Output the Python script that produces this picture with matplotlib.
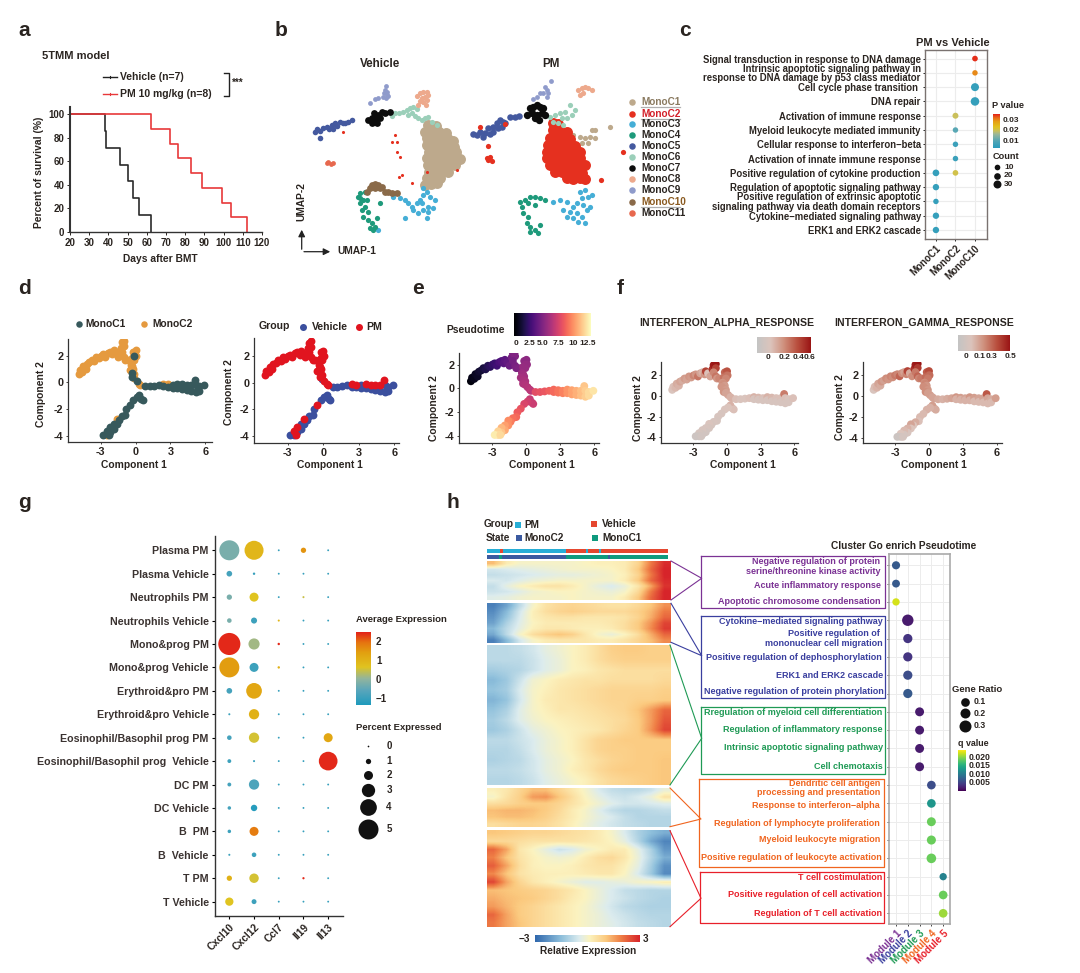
import numpy as np
import matplotlib
matplotlib.use('Agg')
import matplotlib.pyplot as plt
from matplotlib.colors import LinearSegmentedColormap

plt.rcParams['font.family'] = ['Liberation Sans', 'DejaVu Sans']
plt.rcParams['font.weight'] = 'bold'
plt.rcParams['axes.labelweight'] = 'bold'
plt.rcParams['axes.titleweight'] = 'bold'
plt.rcParams['axes.unicode_minus'] = True

W, H = 1080, 973
TXT = '#2a2420'

# a: survival
veh_days = [20, 38, 39, 46, 50, 53, 56, 62]
veh_surv = [100, 85.7, 71.4, 57.1, 42.9, 28.6, 14.3, 0]
pm_days = [20, 62, 72, 76, 83, 89, 99, 104, 112]
pm_surv = [100, 87.5, 75, 62.5, 50, 37.5, 25, 12.5, 0]

# b: UMAP clouds, one list per cluster
cluster_names = ['MonoC1', 'MonoC2', 'MonoC3', 'MonoC4', 'MonoC5', 'MonoC6', 'MonoC7', 'MonoC8', 'MonoC9', 'MonoC10', 'MonoC11']
cluster_colors = ['#bda98c', '#e5301f', '#45aed6', '#1e9a7b', '#44599f', '#9bcfb9', '#0c0c0c', '#eda98c', '#8f9bcb', '#8a6a49', '#e7684e']
legend_text_colors = ['#8a7a60', '#d4202a', TXT, TXT, TXT, TXT, TXT, TXT, TXT, '#8a5a20', TXT]

veh_c1 = [(445, 345), (468, 348), (435, 365), (455, 362), (478, 366), (497, 370), (440, 385), (462, 384), (482, 388), (503, 386), (518, 392),
          (442, 405), (460, 407), (480, 404), (500, 408), (522, 410), (447, 425), (466, 428), (487, 424), (506, 428), (528, 426),
          (440, 445), (460, 447), (480, 444), (500, 448), (520, 445), (541, 447), (445, 465), (466, 467), (486, 464), (506, 467), (526, 465),
          (447, 485), (465, 487), (485, 484), (505, 486), (442, 505), (460, 507), (480, 504), (436, 525), (452, 522), (470, 520)]
veh_c2 = [(345, 375), (335, 395), (350, 395), (350, 425), (360, 440), (365, 495), (358, 500), (395, 520), (190, 365), (440, 487), (530, 480)]
veh_c3 = [(360, 565), (375, 570), (385, 580), (395, 590), (410, 580), (420, 570), (430, 555), (440, 545), (450, 560), (465, 570), (445, 590),
          (430, 600), (415, 610), (440, 625), (445, 605), (460, 595), (400, 600), (375, 625), (340, 560), (430, 535), (295, 660), (425, 580)]
veh_c4 = [(235, 560), (240, 550), (255, 545), (250, 570), (240, 580), (245, 600), (255, 590), (265, 605), (250, 620), (265, 630), (275, 640),
          (285, 650), (270, 655), (280, 660), (290, 625), (300, 580), (260, 570), (240, 565)]
veh_c5 = [(105, 365), (112, 358), (120, 362), (130, 355), (140, 352), (148, 358), (155, 345), (165, 340), (172, 347), (180, 335), (188, 340),
          (195, 338), (205, 335), (215, 330), (120, 385), (160, 358)]
veh_c6 = [(335, 318), (345, 310), (358, 308), (370, 305), (380, 300), (390, 295), (400, 290), (410, 298), (395, 310), (405, 318), (415, 325),
          (425, 330), (385, 315), (435, 325), (445, 320), (455, 335), (470, 345)]
veh_c7 = [(265, 330), (275, 325), (285, 320), (295, 315), (305, 305), (300, 325), (285, 335), (275, 340), (290, 340), (315, 310), (330, 305), (282, 310)]
veh_c8 = [(410, 258), (420, 250), (430, 245), (440, 245), (445, 255), (435, 260), (425, 265), (440, 270), (430, 275), (420, 272), (437, 285), (415, 285)]
veh_c9 = [(318, 228), (315, 240), (322, 245), (312, 250), (320, 255), (325, 258), (310, 262), (318, 265), (285, 268), (270, 280), (295, 265)]
veh_c10 = [(275, 525), (285, 522), (295, 525), (305, 530), (285, 535), (300, 535), (315, 545), (325, 545), (335, 548), (350, 550), (262, 545), (270, 535)]
veh_c11 = [(145, 455), (152, 462), (140, 458), (160, 458)]

pm_c1 = [(880, 375), (900, 380), (915, 385), (930, 380), (945, 385), (905, 400), (925, 400), (935, 360), (990, 350), (945, 360)]
pm_c2 = [(820, 340), (835, 342), (820, 360), (840, 362), (860, 365), (810, 385), (830, 384), (850, 386), (870, 388),
         (805, 405), (825, 407), (845, 404), (865, 406), (885, 408), (800, 425), (820, 427), (840, 424), (860, 426), (880, 428), (900, 425),
         (800, 445), (820, 447), (840, 444), (860, 446), (880, 448), (900, 445), (810, 465), (830, 467), (850, 464), (870, 466), (890, 468), (915, 465),
         (825, 485), (845, 487), (865, 484), (885, 486), (905, 488), (860, 505), (880, 507), (900, 504), (915, 508)]
pm_c2_far = [(963, 510), (1030, 427), (625, 450), (635, 452), (620, 445), (630, 440), (625, 408), (600, 350), (675, 343)]
pm_c3 = [(900, 545), (915, 540), (905, 565), (925, 560), (890, 580), (910, 585), (820, 575), (840, 570), (860, 575), (880, 590), (870, 605),
         (890, 610), (905, 620), (920, 600), (880, 625), (895, 635), (915, 640), (930, 590), (850, 600), (860, 620), (935, 555)]
pm_c4 = [(720, 575), (735, 570), (750, 560), (765, 560), (780, 565), (795, 570), (725, 590), (745, 580), (765, 585), (730, 610), (745, 620),
         (740, 640), (750, 650), (765, 660), (750, 665), (780, 645), (775, 670)]
pm_c5 = [(580, 372), (590, 375), (600, 365), (615, 370), (625, 355), (640, 350), (650, 340), (660, 330), (670, 335), (655, 355), (640, 365),
         (665, 350), (675, 340), (690, 322), (705, 320), (718, 318), (610, 380), (630, 372)]
pm_c6 = [(810, 320), (825, 315), (840, 310), (855, 305), (870, 285), (845, 325), (860, 325), (875, 315), (885, 300), (850, 345), (835, 340), (820, 335)]
pm_c7 = [(750, 295), (760, 290), (770, 285), (780, 290), (790, 295), (785, 310), (770, 315), (755, 310), (765, 325), (778, 330), (740, 315), (795, 315)]
pm_c8 = [(895, 240), (905, 235), (915, 232), (925, 235), (935, 240), (910, 248), (900, 255)]
pm_c9 = [(795, 230), (800, 240), (790, 250), (805, 250), (780, 250), (770, 260), (760, 268), (800, 260), (812, 212)]

# c: enrichment dots
c_terms = ['Signal transduction in response to DNA damage', 'Intrinsic apoptotic signaling pathway in\nresponse to DNA damage by p53 class mediator',
           'Cell cycle phase transition ', 'DNA repair', 'Activation of immune response', 'Myeloid leukocyte mediated immunity',
           'Cellular response to interferon\u2212beta', 'Activation of innate immune response', 'Positive regulation of cytokine production',
           'Regulation of apoptotic signaling pathway', 'Positive regulation of extrinsic apoptotic\nsignaling pathway via death domain receptors',
           'Cytokine\u2212mediated signaling pathway', 'ERK1 and ERK2 cascade']
c_cols = ['MonoC1', 'MonoC2', 'MonoC10']
c_row = [0, 1, 2, 3, 4, 5, 6, 7, 8, 8, 9, 10, 11, 12]
c_col = [2, 2, 2, 2, 1, 1, 1, 1, 0, 1, 0, 0, 0, 0]
c_count = [10, 9, 30, 34, 13, 9, 9, 9, 20, 10, 17, 9, 17, 17]
c_pval = [0.035, 0.03, 0.006, 0.006, 0.02, 0.011, 0.007, 0.007, 0.006, 0.021, 0.006, 0.006, 0.006, 0.006]

# d, e, f: trajectory points (left arm, spur, blob, stem, right arm, lower arm)
traj_x = [-4.9, -4.8, -4.6, -4.5, -4.3, -4.2, -4.0, -3.8, -3.6, -3.4, -3.2, -3.0, -2.8, -2.6, -2.4, -2.2, -2.0, -1.9, -1.7, -1.5,
          -1.3, -1.2, -1.0, -1.0, -1.2, -1.0, -0.9, -0.7,
          -0.2, 0.0, -0.1, 0.05, -0.3, -0.1,
          -0.4, -0.3, -0.2, -0.5, -0.3, -0.1, -0.3, -0.1, 0.1, 0.3, 0.4,
          0.8, 1.2, 1.6, 2.0, 2.4, 2.4, 2.8, 2.8, 3.2, 3.2, 3.6, 3.6, 4.0, 4.0, 4.4, 4.4, 4.8, 4.8, 5.1, 5.2, 5.2, 5.5, 5.5, 5.9,
          0.5, 0.3, 0.6, 0.1, -0.2, -0.5, -0.8, -0.9, -1.2, -1.4, -1.6, -1.6, -1.9, -1.9, -2.2, -2.2, -2.5, -2.5, -2.8, -2.3]
traj_y = [0.6, 0.9, 0.8, 1.2, 1.0, 1.4, 1.5, 1.7, 1.6, 1.9, 1.8, 2.0, 2.1, 1.9, 2.2, 2.3, 2.1, 2.4, 2.2, 1.9,
          2.6, 3.0, 3.1, 2.7, 2.3, 1.9, 1.7, 1.7,
          2.3, 2.4, 2.0, 2.0, 1.8, 1.7,
          1.3, 1.2, 1.0, 0.9, 0.7, 0.6, 0.4, 0.3, 0.1, -0.1, -0.2,
          -0.3, -0.3, -0.25, -0.2, -0.1, -0.3, -0.15, -0.35, -0.2, -0.4, -0.1, -0.4, -0.15, -0.5, -0.2, -0.55, -0.2, -0.6, 0.2, -0.2, -0.7, -0.3, -0.6, -0.2,
          -1.2, -0.9, -1.3, -1.1, -1.3, -1.7, -2.0, -2.4, -2.5, -2.8, -2.7, -3.1, -3.1, -3.5, -3.3, -3.7, -3.6, -3.9, -3.9, -3.9]
traj_state = ('22222222222222222222' '22222222' '221222' '22221212122'
              '111121211111111111111111' '11111111112111111211')
traj_group = ('PPPPPPPPPPPPPPPPPPPP' 'PPPPPPPP' 'PPPPPP' 'PPPPVPPVPPP'
              'VVVVPVPVVVPVPVPVPVPVVVVV' 'VVVVVPVVVVPVVVPVPVVP')
traj_ptime = [0, 0.2, 0.3, 0.5, 0.6, 0.8, 1, 1.2, 1.4, 1.6, 1.8, 2.1, 2.3, 2.5, 2.8, 3, 3.3, 3.4, 3.6, 3.9,
              4.2, 4.5, 4.7, 4.6, 4.2, 4.3, 4.4, 4.5,
              5, 5, 5.2, 5.2, 5.3, 5.3,
              5.5, 5.6, 5.7, 5.8, 5.9, 6, 6.1, 6.2, 6.3, 6.4, 6.5,
              7.8, 8, 8.2, 8.5, 8.8, 8.8, 9.1, 9.1, 9.5, 9.5, 10, 10, 10.4, 10.4, 10.8, 10.8, 11.2, 11.2, 11.4, 11.6, 11.6, 12, 12, 12.3,
              7, 6.8, 7, 7.2, 7.5, 8, 8.4, 8.8, 9, 9.4, 9.8, 9.9, 10.3, 10.6, 11, 11.4, 11.8, 12.1, 12.5, 12]
traj_alpha = [0.02, 0.05, 0.08, 0.12, 0.1, 0.15, 0.12, 0.18, 0.15, 0.2, 0.18, 0.25, 0.2, 0.3, 0.15, 0.1, 0.2, 0.45, 0.05, 0.15,
              0.5, 0.58, 0.6, 0.45, 0.25, 0.3, 0.2, 0.25,
              0.35, 0.4, 0.35, 0.3, 0.3, 0.25,
              0.2, 0.22, 0.18, 0.2, 0.2, 0.18, 0.2, 0.15, 0.15, 0.1, 0.1,
              0.05, 0.02, 0.02, 0.05, 0.1, 0.0, 0.08, 0.0, 0.05, 0.0, 0.1, 0.0, 0.08, 0.0, 0.05, 0.0, 0.05, 0.0, 0.28, 0.05, 0.0, 0.03, 0.0, 0.05,
              0.05, 0.1, 0.05, 0.03, 0.02, 0.0, 0.0, -0.02, 0.0, -0.02, 0.02, -0.02, 0.0, -0.05, 0.0, -0.05, -0.02, -0.08, -0.08, -0.05]
traj_gamma = [0.03, 0.08, 0.1, 0.14, 0.12, 0.18, 0.15, 0.2, 0.18, 0.22, 0.2, 0.25, 0.22, 0.3, 0.2, 0.15, 0.22, 0.38, 0.12, 0.2,
              0.42, 0.48, 0.5, 0.4, 0.25, 0.3, 0.22, 0.25,
              0.32, 0.36, 0.32, 0.28, 0.28, 0.25,
              0.2, 0.22, 0.18, 0.2, 0.2, 0.18, 0.2, 0.16, 0.16, 0.14, 0.14,
              0.12, 0.1, 0.12, 0.14, 0.18, 0.1, 0.16, 0.1, 0.14, 0.1, 0.18, 0.1, 0.16, 0.08, 0.14, 0.08, 0.14, 0.08, 0.33, 0.14, 0.08, 0.12, 0.08, 0.16,
              0.12, 0.16, 0.12, 0.1, 0.1, 0.08, 0.08, 0.06, 0.12, 0.05, 0.14, 0.05, 0.1, 0.02, 0.08, 0.0, 0.05, -0.02, -0.05, 0.0]

# g: expression dot plot
g_rows = ['Plasma PM', 'Plasma Vehicle', 'Neutrophils PM', 'Neutrophils Vehicle', 'Mono&prog PM', 'Mono&prog Vehicle', 'Erythroid&pro PM',
          'Erythroid&pro Vehicle', 'Eosinophil/Basophil prog PM', 'Eosinophil/Basophil prog  Vehicle', 'DC PM', 'DC Vehicle', 'B  PM', 'B  Vehicle', 'T PM', 'T Vehicle']
g_genes = ['Cxcl10', 'Cxcl12', 'Ccl7', 'Il19', 'Il13']
g_pct = {'Cxcl10': [5, 1.1, 1, 0.8, 5.6, 5, 1.1, 0.1, 0.8, 0.6, 0.6, 0.5, 0.5, 0.1, 1, 1.8],
         'Cxcl12': [4.7, 0.2, 2, 1.2, 2.5, 2, 3.7, 2.3, 2.3, 0.1, 2.3, 1.3, 2, 0.8, 2.1, 0.9],
         'Ccl7': [0.05, 0.05, 0.05, 0.1, 0.2, 0.2, 0.05, 0.05, 0.05, 0.05, 0.05, 0.05, 0.05, 0.05, 0.05, 0.05],
         'Il19': [1, 0.05, 0.1, 0.05, 0.05, 0.05, 0.05, 0.05, 0.05, 0.05, 0.05, 0.05, 0.05, 0.05, 0.15, 0.05],
         'Il13': [0.05, 0.05, 0.05, 0.05, 0.05, 0.05, 0.05, 0.05, 2, 4.6, 0.05, 0.05, 0.05, 0.05, 0.05, 0.05]}
g_avg = {'Cxcl10': [-0.2, -0.8, -0.2, -0.2, 2.5, 1.5, -0.8, -0.9, -0.8, -0.9, -0.8, -0.8, -0.9, -0.9, 1.1, 0.7],
         'Cxcl12': [1.0, -1, 0.7, -0.9, 0.2, -0.9, 1.3, 1.1, 0.6, -1, -0.7, -1.2, 1.9, -0.9, 0.6, -0.9],
         'Ccl7': [-1, -1, -1, 1.0, 2.5, 1.1, -1, -1, -1, -1, -1, -1, -1, -1, -1, -1],
         'Il19': [1.6, -1, 0.5, -1, -1, -1, -1, -1, -1, -1, -1, -1, -1, -1, 2.5, -1],
         'Il13': [-1, -1, -1, -1, -1, -1, -1, -1, 1.3, 2.5, -1, -1, -1, -1, -1, -1]}
pct_legend = [0, 1, 2, 3, 4, 5]

# h: heatmap, one table per module, pseudotime runs left to right
heat_m1 = [[1.2, 0.3, 0, 0, 0, 0, 0, 0.1, 0.2, 0.2, 0.3, 0.8, 2, 2.9],
           [-0.6, -0.5, -0.4, -0.3, -0.2, -0.1, 0, 0, 0, 0.1, 0.3, 1, 2.2, 3],
           [-0.8, -0.7, -0.6, -0.5, -0.4, -0.3, -0.3, -0.2, -0.1, 0, 0.2, 0.8, 2, 3],
           [-0.5, -0.6, -0.4, -0.2, -0.1, 0, 0, 0, 0, 0, 0.3, 1, 2.2, 2.9],
           [-0.8, -0.3, 0.1, 0.3, 0.5, 0.5, 0.3, 0, -0.3, -0.5, -0.2, 0.4, 1.5, 2.8],
           [-0.7, -0.6, -0.4, -0.1, 0, 0.1, 0.1, 0, -0.1, -0.2, 0, 0.7, 2, 3],
           [-0.4, -0.3, -0.1, 0, 0, 0, 0.1, 0, 0, 0, 0.3, 1, 2.2, 3]]
heat_m2 = [[-2.6, -2, -0.9, 0, 0.5, 0.7, 0.8, 0.7, 0.6, 0.5, 0.5, 0.7, 1.1, 1.7],
           [-2.4, -1.6, -0.6, 0.2, 0.6, 0.8, 0.9, 0.8, 0.7, 0.7, 0.7, 0.9, 1.3, 2],
           [-2.2, -1.4, -0.5, 0.2, 0.4, 0.5, 0.5, 0.4, 0.4, 0.4, 0.5, 0.8, 1.4, 2.2],
           [-2.0, -1.1, -0.4, 0.1, 0.3, 0.3, 0.3, 0.3, 0.3, 0.4, 0.6, 1, 1.7, 2.6],
           [-1.6, -0.9, -0.3, 0.2, 0.4, 0.4, 0.3, 0.2, 0.2, 0.3, 0.6, 1, 1.8, 2.7],
           [-1.9, -0.9, 0, 0.6, 0.9, 1.1, 0.9, 0.4, 0, -0.2, 0.1, 0.6, 1.4, 2.2],
           [-2.6, -1.6, -0.6, 0, 0.3, 0.4, 0.4, 0.4, 0.3, 0.3, 0.5, 0.8, 1.2, 1.8]]
heat_m3 = [[-0.9, -0.9, -0.8, -0.6, -0.3, -0.1, 0.1, 0.3, 0.6, 0.9, 1, 1, 0.9, 0.9],
           [-0.9, -0.9, -0.9, -0.7, -0.4, -0.2, 0.1, 0.3, 0.6, 0.8, 0.9, 0.9, 0.9, 0.9],
           [-1.2, -1.1, -1, -0.7, -0.4, -0.2, 0.1, 0.2, 0.4, 0.5, 0.6, 0.6, 0.6, 0.6],
           [-1.6, -1.3, -0.7, -0.1, 0.1, 0.3, 0.4, 0.5, 0.5, 0.6, 0.6, 0.6, 0.6, 0.7],
           [-1.4, -1.2, -0.5, 0, 0.2, 0.4, 0.5, 0.6, 0.7, 0.8, 0.8, 0.8, 0.8, 0.9],
           [-1.7, -1.4, -0.6, 0, 0.3, 0.4, 0.5, 0.6, 0.7, 0.8, 0.8, 0.9, 0.9, 1],
           [-1.4, -1.1, -0.4, 0, 0.2, 0.4, 0.4, 0.5, 0.6, 0.7, 0.8, 1.1, 1.6, 2.2],
           [-1.2, -0.9, -0.4, -0.1, 0.1, 0.2, 0.3, 0.4, 0.5, 0.6, 0.7, 1, 1.6, 2.4],
           [-1.3, -1.1, -0.7, -0.3, -0.1, 0.1, 0.2, 0.3, 0.4, 0.6, 0.8, 1, 1.7, 2.6],
           [-0.9, -0.9, -0.7, -0.5, -0.2, 0, 0.2, 0.5, 0.8, 0.9, 1, 1, 1, 1],
           [-1, -1, -0.8, -0.5, -0.2, 0, 0.2, 0.5, 0.8, 0.9, 0.9, 1, 1, 1],
           [-1.1, -1, -0.9, -0.6, -0.3, -0.1, 0.1, 0.4, 0.6, 0.8, 0.9, 1, 1, 1.1],
           [-0.9, -0.9, -0.8, -0.6, -0.3, -0.1, 0.2, 0.4, 0.7, 0.9, 1, 1, 1, 1.1],
           [-1, -1, -0.9, -0.7, -0.4, -0.2, 0, 0.2, 0.5, 0.7, 0.8, 0.9, 1, 1.1]]
heat_m4 = [[0.2, 0.4, 0.8, 1.2, 1.2, 0.8, 0.4, 0, -0.5, -0.8, -0.9, -0.9, -0.7, -0.2],
           [0, 0.5, 0.9, 1.6, 1.7, 1.1, 0.6, 0.1, -0.3, -0.6, -0.7, -0.5, -0.2, 0.5],
           [0.6, 0.7, 0.9, 1, 1, 0.8, 0.5, 0.2, -0.1, -0.4, -0.6, -0.6, -0.5, -0.4],
           [1.2, 1.3, 1.3, 1.2, 1, 0.7, 0.3, 0, -0.4, -0.8, -1, -1, -0.9, -0.8],
           [1.1, 1.2, 1.2, 1.1, 0.9, 0.6, 0.3, 0, -0.3, -0.5, -0.8, -1, -1, -1],
           [0.6, 0.7, 0.8, 0.8, 0.7, 0.5, 0.2, -0.1, -0.4, -0.6, -0.8, -0.9, -1, -1]]
heat_m5 = [[1.1, 1, 0.9, 0.8, 0.8, 0.7, 0.6, 0.5, 0.3, 0, -0.5, -1.1, -1.5, -1.8],
           [0.7, 0.7, 0.6, 0.5, 0.5, 0.5, 0.5, 0.4, 0.3, 0.1, -0.3, -1, -1.9, -2.5],
           [2.2, 1.5, 0.4, 0.1, -0.3, -0.7, -0.5, -0.1, 0.1, 0.3, 0.3, -0.3, -1.1, -2.2],
           [1.9, 1.1, 0.5, 0.2, 0, -0.1, 0, 0.3, 0.6, 0.7, 0.4, -0.2, -1, -1.8],
           [2.3, 1.5, 0.6, 0.2, 0.1, 0.1, 0.2, 0.4, 0.5, 0.5, 0.2, -0.3, -1.2, -2.3],
           [1.8, 1.1, 0.5, 0.3, 0.2, 0.2, 0.2, 0.3, 0.4, 0.4, 0.1, -0.5, -1.3, -2.4],
           [2.6, 1.5, 0.8, 0.4, 0.2, 0, -0.2, -0.4, -0.4, -0.3, -0.2, 0, 0.1, 0.3],
           [1.2, 1.1, 1, 0.9, 0.8, 0.6, 0.4, 0.1, -0.2, -0.5, -0.8, -0.9, -1, -1],
           [1.4, 1.2, 1.1, 1, 0.8, 0.6, 0.3, 0.1, -0.2, -0.5, -0.7, -0.9, -1, -1.1],
           [1.6, 1.3, 1, 0.8, 0.6, 0.4, 0.2, 0, -0.3, -0.6, -0.9, -1, -1.1, -1.1],
           [2.2, 1.5, 1, 0.8, 0.6, 0.4, 0.2, 0, -0.2, -0.5, -0.7, -0.9, -1, -1],
           [2, 1.5, 1.1, 0.8, 0.6, 0.4, 0.2, 0, -0.2, -0.4, -0.6, -0.8, -0.9, -1]]
group_seg = [('PM', 7.1), ('Vehicle', 1.8), ('PM', 34), ('Vehicle', 10.9), ('PM', 1.3), ('Vehicle', 5.8), ('PM', 1.1), ('Vehicle', 36.2)]
state_seg = [('MonoC2', 6.5), ('MonoC1', 1.5), ('MonoC2', 35), ('MonoC1', 23), ('MonoC2', 0.9), ('MonoC1', 31.4)]

# h: GO terms, modules and dots
mod_names = ['Module 1', 'Module 2', 'Module 3', 'Module 4', 'Module 5']
mod_colors = ['#7b3294', '#3a3f9f', '#1f9a55', '#f0651f', '#e8202a']
go_m1 = [('Negative regulation of protein', 880, 561), ('serine/threonine kinase activity', 880.7, 571.3), ('Acute inflammatory response', 880.7, 585.7), ('Apoptotic chromosome condensation', 880.7, 602)]
go_m2 = [('Cytokine\u2212mediated signaling pathway', 882.7, 621.3), ('Positive regulation of', 880, 634), ('mononuclear cell migration', 882.7, 643.3),
         ('Positive regulation of dephosphorylation', 882, 657.3), ('ERK1 and ERK2 cascade', 882.7, 675.7), ('Negative regulation of protein phorylation', 884, 691.3)]
go_m3 = [('Rregulation of myeloid cell differentiation', 882.3, 712.7), ('Regulation of inflammatory response', 882.7, 730), ('Intrinsic apoptotic signaling pathway', 882.7, 747.3), ('Cell chemotaxis', 882.7, 766.7)]
go_m4 = [('Dendritic cell antigen', 880, 783.3), ('processing and presentation', 880, 792.7), ('Response to interferon\u2212alpha', 880, 805.7),
         ('Regulation of lymphocyte proliferation', 880, 823.3), ('Myeloid leukocyte migration', 880, 840), ('Positive regulation of leukocyte activation', 881.7, 857.3)]
go_m5 = [('T cell costimulation', 882.3, 877.7), ('Positive regulation of cell activation', 882.3, 894.7), ('Regulation of T cell activation', 882.3, 913)]
go_module = [0, 0, 0, 1, 1, 1, 1, 1, 2, 2, 2, 2, 3, 3, 3, 3, 3, 4, 4, 4]
go_ratio = [0.08, 0.07, 0.05, 0.27, 0.14, 0.14, 0.14, 0.14, 0.12, 0.12, 0.12, 0.12, 0.1, 0.1, 0.12, 0.13, 0.17, 0.05, 0.1, 0.1]
go_q = [0.007, 0.007, 0.023, 0.002, 0.004, 0.004, 0.006, 0.007, 0.002, 0.002, 0.002, 0.002, 0.006, 0.013, 0.019, 0.019, 0.019, 0.011, 0.019, 0.021]
ratio_legend = [0.1, 0.2, 0.3]


def px_axes(x0, y0, x1, y1, **kw):
    return fig.add_axes([x0 / W, 1 - y1 / H, (x1 - x0) / W, (y1 - y0) / H], **kw)


def T(x, y, s, size=6.6, ha='left', va='center', color=TXT, **kw):
    ov.text(x, y, s, fontsize=size, ha=ha, va=va, color=color, **kw)


def dia(d_px):
    return (d_px * 0.72) ** 2


def L_axes(ax, lw=1.0):
    ax.spines['top'].set_visible(False)
    ax.spines['right'].set_visible(False)
    ax.spines['left'].set_linewidth(lw)
    ax.spines['bottom'].set_linewidth(lw)
    ax.spines['left'].set_color('#333333')
    ax.spines['bottom'].set_color('#333333')


def ramp(x0, y0, x1, y1, cmap, horizontal=False):
    a = px_axes(x0, y0, x1, y1)
    g = np.linspace(0, 1, 128)
    a.imshow(g[None, :] if horizontal else g[::-1, None], aspect='auto', cmap=cmap)
    a.axis('off')
    return a


def label_at(a, box, xlab, xlab_px, ylab, ylab_px, size=7.4):
    # place axis labels at pixel positions
    x0, y0, x1, y1 = box
    a.set_xlabel(xlab, fontsize=size, color=TXT, va='center', ha='center')
    a.set_ylabel(ylab, fontsize=size, color=TXT, va='center', ha='center')
    a.xaxis.set_label_coords((xlab_px[0] - x0) / (x1 - x0), (y1 - xlab_px[1]) / (y1 - y0))
    a.yaxis.set_label_coords((ylab_px[0] - x0) / (x1 - x0), (y1 - ylab_px[1]) / (y1 - y0))


fig = plt.figure(figsize=(W / 100, H / 100), dpi=100)
ov = fig.add_axes([0, 0, 1, 1], zorder=5)
ov.set_xlim(0, W)
ov.set_ylim(H, 0)
ov.axis('off')
ov.patch.set_alpha(0)

for s, x, y in [('a', 18, 30), ('b', 275, 30), ('c', 679, 30), ('d', 18, 288), ('e', 412, 288), ('f', 617, 288), ('g', 18, 502), ('h', 446, 502)]:
    T(x, y, s, size=15)

# a
box = (70, 107, 262, 232)
ax = px_axes(*box)
ax.step(veh_days, veh_surv, where='post', color='#2a2a2a', lw=1.2)
ax.step(pm_days, pm_surv, where='post', color='#e8383a', lw=1.2)
ax.set_xlim(20, 120)
ax.set_ylim(0, 106)
ax.set_xticks(range(20, 121, 10))
ax.set_yticks(range(0, 101, 20))
ax.tick_params(labelsize=7, length=2, width=0.7, pad=2, colors=TXT)
label_at(ax, box, 'Days after BMT', (160, 259), 'Percent of survival (%)', (39, 172))
L_axes(ax)
ax.spines['left'].set_linewidth(1.5)
T(42, 55.7, '5TMM model', size=8)
ov.plot([103, 117], [77.3, 77.3], color='#222222', lw=1)
ov.plot([110, 110], [76, 78], color='#222222', lw=0.8)
ov.plot([103, 117], [93.7, 93.7], color='#e8383a', lw=1)
ov.plot([110, 110], [93, 95], color='#e8383a', lw=0.8)
T(120, 77.3, 'Vehicle (n=7)', size=7.5)
T(120, 93.7, 'PM 10 mg/kg (n=8)', size=7.5)
ov.plot([224, 229, 229, 224], [72.7, 72.7, 96, 96], color='#222222', lw=1)
T(238, 83, '***', size=7, ha='center')

# b
veh_sets = [veh_c1, veh_c2, veh_c3, veh_c4, veh_c5, veh_c6, veh_c7, veh_c8, veh_c9, veh_c10, veh_c11]
pm_sets = [pm_c1, pm_c2, pm_c3, pm_c4, pm_c5, pm_c6, pm_c7, pm_c8, pm_c9, [], []]
veh_s = [62, 5, 14, 14, 16, 14, 24, 14, 12, 24, 12]
pm_s = [14, 62, 14, 14, 22, 14, 28, 14, 12, 0, 0]
ax_v = px_axes(310, 75, 470, 240)
ax_p = px_axes(470, 75, 640, 240)
for a, sets, sizes, lim in [(ax_v, veh_sets, veh_s, (90, 570)), (ax_p, pm_sets, pm_s, (570, 1080))]:
    for pts, col, sz in zip(sets, cluster_colors, sizes):
        if pts:
            xs, ys = zip(*pts)
            a.scatter(xs, ys, s=sz, color=col, linewidths=0)
    a.set_xlim(*lim)
    a.set_ylim(690, 195)
    a.axis('off')
xs, ys = zip(*pm_c2_far)
ax_p.scatter(xs, ys, s=14, color=cluster_colors[1], linewidths=0)
T(380, 64.3, 'Vehicle', size=8.4, ha='center')
T(550.7, 64.3, 'PM', size=8.4, ha='center')
T(301, 201.7, 'UMAP-2', size=7.4, ha='center', rotation=90)
T(337, 250.7, 'UMAP-1', size=7.4)
ov.annotate('', xy=(301.7, 227), xytext=(301.7, 252), arrowprops=dict(arrowstyle='-|>', color='#222222', lw=0.9))
ov.annotate('', xy=(333, 251.7), xytext=(301.2, 251.7), arrowprops=dict(arrowstyle='-|>', color='#222222', lw=0.9))
leg_y = [102.3, 113.7, 124.3, 135, 146, 157, 168, 179.3, 190.3, 201.7, 212.7]
for name, col, tcol, y in zip(cluster_names, cluster_colors, legend_text_colors, leg_y):
    ov.scatter(632, y, s=dia(6.5), color=col, linewidths=0)
    T(641.7, y, name, size=7.2, color=tcol)
    if name in ('MonoC1', 'MonoC2', 'MonoC10'):
        ov.plot([641, 680], [y + 5, y + 5], color='#b0b0b0', lw=0.9)

# c
pcmap = LinearSegmentedColormap.from_list('pv', [(0, '#2a9cbd'), (0.2, '#52a6b6'), (0.4, '#9ab79a'), (0.5, '#c9c05e'), (0.62, '#e2c31e'), (0.78, '#e6a015'), (0.9, '#e8661a'), (1, '#e3231a')])
ax = px_axes(925, 50, 986.7, 239.3)
ax.set_axisbelow(True)
ax.grid(color='#ececec', lw=0.8)
c_d = np.interp(c_count, [5, 10, 20, 30, 40], [14, 17, 20, 24, 28]) / 3
ax.scatter(c_col, c_row, s=dia(c_d), c=c_pval, cmap=pcmap, vmin=0.0042, vmax=0.0355, linewidths=0, zorder=3)
ax.set_xlim(-0.56, 2.6)
ax.set_ylim(12.65, -0.6)
ax.set_xticks(range(3))
ax.set_xticklabels(c_cols, rotation=45, ha='right', rotation_mode='anchor', fontsize=7, color=TXT)
ax.set_yticks(range(13))
ax.set_yticklabels(c_terms, fontsize=6.85, color=TXT, linespacing=0.95)
ax.tick_params(length=1.5, width=0.6, pad=1.5)
for sp in ax.spines.values():
    sp.set_color('#7a7270')
    sp.set_linewidth(1.0)
T(953, 43.5, 'PM vs Vehicle', size=8, ha='center')
T(992, 105.7, 'P value', size=6.6)
ramp(992.7, 114, 999.3, 148, pcmap)
for lab, y in [('0.03', 120), ('0.02', 130.7), ('0.01', 141.7)]:
    T(1003, y, lab, size=6)
T(992.3, 156.7, 'Count', size=6.6)
for lab, y, cnt in [('10', 167.3, 10), ('20', 175.7, 20), ('30', 184, 30)]:
    ov.scatter(996.7, y, s=dia(np.interp(cnt, [10, 20, 30], [17, 20, 24]) / 3), color='#111111', linewidths=0)
    T(1004, y, lab, size=6)

# d, e, f
tx = np.array(traj_x)
ty = np.array(traj_y)
is_c2 = np.array([c == '2' for c in traj_state])
is_pm = np.array([c == 'P' for c in traj_group])


def traj_axes(box, xlim, ylim, xlab_px, ylab_px):
    a = px_axes(*box)
    a.set_xlim(*xlim)
    a.set_ylim(*ylim)
    a.set_xticks([-3, 0, 3, 6])
    a.set_yticks([-4, -2, 0, 2])
    a.set_yticklabels(['-4', '-2', '0', '2'])
    a.set_xticklabels(['-3', '0', '3', '6'])
    a.tick_params(labelsize=7.8, length=1.5, width=0.6, pad=2, colors=TXT)
    label_at(a, box, 'Component 1', xlab_px, 'Component 2', ylab_px)
    L_axes(a, 0.9)
    return a


DS = 32
ax = traj_axes((68, 339, 212, 442), (-5.83, 6.58), (-4.45, 3.25), (134, 465), (41, 394))
ax.scatter(tx[is_c2], ty[is_c2], s=DS, color='#e59a3f', linewidths=0)
ax.scatter(tx[~is_c2], ty[~is_c2], s=DS, color='#37595c', linewidths=0)
ov.scatter(79, 324.3, s=dia(6.5), color='#37595c', linewidths=0)
T(85, 324.3, 'MonoC1', size=7.4)
ov.scatter(144.3, 324.3, s=dia(6.5), color='#e59a3f', linewidths=0)
T(152.3, 324.3, 'MonoC2', size=7.4)

ax = traj_axes((254.3, 337.7, 399.3, 443), (-5.82, 6.42), (-4.53, 3.38), (329.5, 465), (229, 392))
ax.scatter(tx[~is_pm], ty[~is_pm], s=DS, color='#3b4f9e', linewidths=0)
ax.scatter(tx[is_pm], ty[is_pm], s=DS, color='#e1141f', linewidths=0)
T(259, 326, 'Group', size=7.6)
ov.scatter(303.3, 327, s=dia(7), color='#3b4f9e', linewidths=0)
T(311.7, 327, 'Vehicle', size=7.6)
ov.scatter(358.7, 327, s=dia(7), color='#e1141f', linewidths=0)
T(366, 327, 'PM', size=7.6)

ax = traj_axes((459, 353, 599, 442.7), (-5.95, 6.4), (-4.55, 2.97), (542, 465), (434, 408))
ax.scatter(tx, ty, s=DS, c=traj_ptime, cmap='magma', vmin=-0.35, vmax=13, linewidths=0)
T(446, 330, 'Pseudotime', size=7.4)
ramp(514, 313.3, 590.8, 335.7, 'magma', horizontal=True)
for lab, x in [('0', 516), ('2.5', 530), ('5.0', 543), ('7.5', 558), ('10', 573), ('12.5', 588)]:
    T(x, 343.7, lab, size=6, ha='center')

ifn = LinearSegmentedColormap.from_list('ifn', ['#c4c4c4', '#dcc4bc', '#cf8f7c', '#b94f3e', '#9a1515'])
ax = traj_axes((661, 361.7, 798, 442.7), (-5.9, 6.34), (-4.52, 3.33), (743, 465), (638, 408))
ax.scatter(tx, ty, s=DS, c=traj_alpha, cmap=ifn, vmin=-0.15, vmax=0.6, linewidths=0)
T(727, 323.3, 'INTERFERON_ALPHA_RESPONSE', size=7.55, ha='center')
ramp(756.8, 337.3, 810.8, 352.7, ifn, horizontal=True)
for lab, x in [('0', 768.4), ('0.2', 785), ('0.4', 799), ('0.6', 810)]:
    T(x, 357.7, lab, size=6, ha='center')

ax = traj_axes((863, 361.7, 1002, 443.3), (-5.84, 6.46), (-4.52, 3.3), (934, 465), (840, 407))
ax.scatter(tx, ty, s=DS, c=traj_gamma, cmap=ifn, vmin=-0.1, vmax=0.5, linewidths=0)
T(924.5, 322.7, 'INTERFERON_GAMMA_RESPONSE', size=7.6, ha='center')
ramp(958, 335, 1010, 351, ifn, horizontal=True)
for lab, x in [('0', 966), ('0.1', 979.6), ('0.3', 991), ('0.5', 1010.8)]:
    T(x, 356.5, lab, size=6, ha='center')

# g
avg_cmap = LinearSegmentedColormap.from_list('avg', [(0, '#1f9bbd'), (0.2, '#5aa6bb'), (0.36, '#93b59d'), (0.52, '#e0c420'), (0.72, '#e2a010'), (0.86, '#e67410'), (1, '#e3231a')])
ax = px_axes(215, 536, 343, 915.7)
pct_to_d = lambda p: np.interp(p, [0, 1, 2, 3, 4, 5, 6], [1.7, 5.3, 9, 13.3, 16.7, 20, 23.5])
for j, gene in enumerate(g_genes):
    ax.scatter([j] * len(g_rows), range(len(g_rows)), s=dia(pct_to_d(np.array(g_pct[gene]))), c=g_avg[gene], cmap=avg_cmap, vmin=-1.3, vmax=2.54, linewidths=0)
ax.set_xlim(-0.58, 4.6)
ax.set_ylim(15.6, -0.61)
ax.set_xticks(range(5))
ax.set_xticklabels(g_genes, rotation=45, ha='right', rotation_mode='anchor', fontsize=7.4, color=TXT)
ax.set_yticks(range(16))
ax.set_yticklabels(g_rows, fontsize=7.7, color='#3a3230')
ax.tick_params(length=2.5, width=0.8, pad=2)
L_axes(ax, 1.0)
T(356, 620, 'Average Expression', size=6.8)
ramp(356, 632, 370.7, 705, avg_cmap)
for lab, y in [('2', 642), ('1', 661.3), ('0', 680.3), ('\u22121', 699.3)]:
    T(376, y, lab, size=7)
T(356, 727, 'Percent Expressed', size=6.8)
for p, y in zip(pct_legend, [746, 760.7, 775.3, 790, 806.7, 828.7]):
    ov.scatter(368, y, s=dia(pct_to_d(p)), color='#111111', linewidths=0)
    T(389, y, str(p), size=7, ha='center')

# h heatmap
heat_cmap = LinearSegmentedColormap.from_list('hx', [(0, '#3068ad'), (0.25, '#8fc0dc'), (0.42, '#dcecee'), (0.52, '#fbf3c0'), (0.68, '#fbc97e'), (0.82, '#ef7f46'), (1, '#d7242a')])
heat_boxes = [(561, 600, heat_m1), (602.7, 642.7, heat_m2), (645, 785, heat_m3), (787.7, 827.3, heat_m4), (830, 927.3, heat_m5)]
for y0, y1, tab in heat_boxes:
    a = px_axes(487, y0, 671, y1)
    a.imshow(np.array(tab), aspect='auto', cmap=heat_cmap, vmin=-3, vmax=3, interpolation='bilinear')
    a.axis('off')
group_colors = {'PM': '#27aed6', 'Vehicle': '#e5472f', 'MonoC2': '#3b5aa0', 'MonoC1': '#0f9a7e'}
ax = px_axes(487, 548.5, 671, 559.5)
for segs, yc in [(group_seg, 1), (state_seg, 0)]:
    left = 0
    for name, w in segs:
        ax.barh(yc, w, left=left, height=0.8, color=group_colors[name], linewidth=0)
        left += w
ax.set_xlim(0, 100)
ax.set_ylim(-0.5, 1.5)
ax.axis('off')
T(484, 524, 'Group', size=7.2)
T(485.3, 537.7, 'State', size=7.2)
for x, y, col, lab, xt in [(518, 525, '#27aed6', 'PM', 524.3), (594, 524.3, '#e5472f', 'Vehicle', 602),
                           (518.5, 538.3, '#3b5aa0', 'MonoC2', 524.3), (595, 538.3, '#0f9a7e', 'MonoC1', 602)]:
    ov.scatter(x, y, s=dia(6), marker='s', color=col, linewidths=0)
    T(xt, y, lab, size=7.2)
ramp(535, 935, 640, 942.3, heat_cmap, horizontal=True)
T(524, 939, '\u22123', size=7.2, ha='center')
T(646, 939, '3', size=7.2, ha='center')
T(587.7, 951, 'Relative Expression', size=7.3, ha='center')

# connectors and boxes
links = [((671, 561), (671, 600), (701.7, 578.3)), ((671, 603.3), (671, 642.3), (701.7, 655.7)), ((670, 645), (670, 785), (701.7, 738.3)),
         ((670, 788), (670, 826.7), (701, 819)), ((670, 830.7), (670, 926.7), (701, 898.3))]
boxes = [(700.7, 555.7, 885, 608.3), (700.7, 615.7, 885, 697.7), (700.7, 707.3, 885, 774.3), (699.3, 779, 884, 867.3), (700, 872.3, 884, 922.7)]
for (p, q, r), (x0, y0, x1, y1), col in zip(links, boxes, mod_colors):
    ov.plot([p[0], r[0], q[0]], [p[1], r[1], q[1]], color=col, lw=0.8)
    ov.plot([x0, x1, x1, x0, x0], [y0, y0, y1, y1, y0], color=col, lw=0.9)
for terms, col in zip([go_m1, go_m2, go_m3, go_m4, go_m5], mod_colors):
    for s, x, y in terms:
        T(x, y, s, size=6.5, ha='right', color=col)

# h dots
ax = px_axes(889.3, 554.3, 950, 924.3)
ax.set_axisbelow(True)
ax.grid(color='#ececec', lw=0.7)
ratio_d = lambda r: np.interp(r, [0.05, 0.1, 0.2, 0.3], [22, 26, 30, 36]) / 3
ax.scatter(go_module, range(len(go_module)), s=dia(ratio_d(np.array(go_ratio))), c=go_q, cmap='viridis', vmin=0.0002, vmax=0.0246, linewidths=0, zorder=3)
ax.set_xlim(-0.57, 4.58)
ax.set_ylim(19.6, -0.6)
ax.set_xticks(range(5))
ax.set_xticklabels(mod_names, rotation=45, ha='right', rotation_mode='anchor', fontsize=7)
for lab, col in zip(ax.get_xticklabels(), mod_colors):
    lab.set_color(col)
ax.set_yticks(range(20))
ax.set_yticklabels([])
ax.tick_params(length=1.5, width=0.5, pad=1.5)
for sp in ax.spines.values():
    sp.set_color('#aaaaaa')
    sp.set_linewidth(1.2)
T(903.5, 545.7, 'Cluster Go enrich Pseudotime', size=7.3, ha='center')
T(952, 690, 'Gene Ratio', size=6.8)
for r, y in zip(ratio_legend, [702, 713, 725.7]):
    ov.scatter(964.7, y, s=dia(ratio_d(r)), color='#111111', linewidths=0)
    T(973.5, y, str(r), size=6.2)
T(958, 743.7, 'q value', size=6.4)
ramp(958, 750, 966, 790.7, 'viridis')
for lab, y in [('0.020', 757.7), ('0.015', 766), ('0.010', 774.3), ('0.005', 782.7)]:
    T(968.5, y, lab, size=6.2)

plt.savefig('out.png', dpi=100)
